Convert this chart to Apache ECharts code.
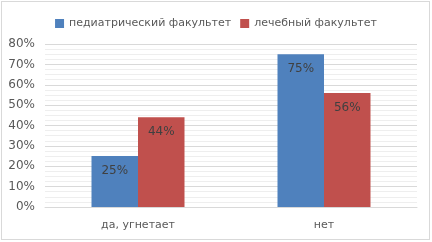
<!DOCTYPE html>
<html>
<head>
<meta charset="utf-8">
<script src="https://cdn.jsdelivr.net/npm/echarts@6/dist/echarts.min.js"></script>
<style>
  html, body { margin: 0; padding: 0; background: #fff; }
  #frame { position: absolute; left: 1px; top: 1px; width: 429px; height: 239px; border: 1px solid #d9d9d9; box-sizing: border-box; }
  #chart { width: 432px; height: 242px; }
</style>
</head>
<body>
<div id="frame"></div>
<div id="chart"></div>
<script>
const categories = ['да, угнетает', 'нет'];
const pediatric = [25, 75];
const medical = [44, 56];
const seriesNames = ['педиатрический факультет', 'лечебный факультет'];

const font = 'DejaVu Sans';
const chart = echarts.init(document.getElementById('chart'));

const label = {
  show: true,
  position: 'insideTop',
  distance: 9,
  color: '#404040',
  fontFamily: font,
  fontSize: 12,
  formatter: (p) => p.value + '%',
};

chart.setOption({
  animation: false,
  legend: {
    data: seriesNames,
    top: 13,
    left: 'center',
    icon: 'rect',
    itemWidth: 9,
    itemHeight: 9,
    itemGap: 9,
    textStyle: { color: '#595959', fontFamily: font, fontSize: 11 },
  },
  grid: { left: 45, right: 15, top: 44, bottom: 35 },
  xAxis: {
    type: 'category',
    data: categories,
    axisLine: { show: true, lineStyle: { color: '#d9d9d9' } },
    axisTick: { show: false },
    axisLabel: { color: '#595959', fontFamily: font, fontSize: 11, margin: 13 },
  },
  yAxis: {
    type: 'value',
    min: 0,
    max: 80,
    interval: 10,
    axisLabel: { color: '#595959', fontFamily: font, fontSize: 12, formatter: '{value}%', margin: 10 },
    splitLine: { lineStyle: { color: '#d9d9d9' } },
    minorTick: { show: false, splitNumber: 4 },
    minorSplitLine: { show: true, lineStyle: { color: '#eeeeee' } },
  },
  series: [
    {
      name: seriesNames[0],
      type: 'bar',
      data: pediatric,
      barGap: '0%',
      barCategoryGap: '50%',
      itemStyle: { color: '#4f81bd' },
      label,
    },
    {
      name: seriesNames[1],
      type: 'bar',
      data: medical,
      itemStyle: { color: '#c0504d' },
      label,
    },
  ],
});
</script>
</body>
</html>
